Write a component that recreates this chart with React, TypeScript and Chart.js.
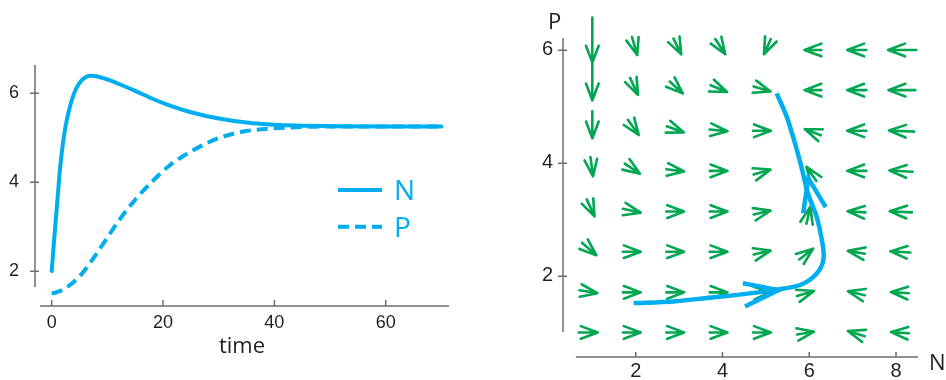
import React, { useEffect, useRef } from 'react';
import { Chart, registerables } from 'chart.js';

Chart.register(...registerables);

// ---------- Left panel: time series ----------
const timeT = [0, 0.5, 1, 1.5, 2, 2.5, 3, 4, 5, 6, 7, 8, 10, 12, 15, 18, 21, 25, 30, 35, 40, 45, 50, 60, 70];
const seriesN = [2.0, 2.8, 3.55, 4.3, 4.85, 5.25, 5.55, 5.98, 6.22, 6.34, 6.38, 6.37, 6.3, 6.2, 6.04, 5.87, 5.72, 5.56, 5.42, 5.33, 5.28, 5.26, 5.25, 5.24, 5.24];
const seriesP = [1.5, 1.51, 1.53, 1.55, 1.58, 1.62, 1.66, 1.76, 1.88, 2.03, 2.2, 2.38, 2.75, 3.12, 3.6, 4.0, 4.35, 4.68, 4.98, 5.14, 5.2, 5.23, 5.24, 5.24, 5.24];
const timeTicks = [0, 20, 40, 60];
const valueTicks = [2, 4, 6];
const seriesLabels = ['N', 'P'];
const timeTitle = 'time';

// ---------- Right panel: phase plane ----------
const phaseTicksN = [2, 4, 6, 8];
const phaseTicksP = [2, 4, 6];
const phaseLabelN = 'N';
const phaseLabelP = 'P';
const fieldN = [1, 2, 3, 4, 5, 6, 7, 8];
const fieldP = [6, 5.29, 4.57, 3.86, 3.14, 2.43, 1.71, 1];
const fieldU = [
  [0, 0.12, 0.18, 0.23, -0.16, -0.39, -0.44, -0.65],
  [0, 0.18, 0.3, 0.38, 0.39, -0.39, -0.44, -0.62],
  [0, 0.25, 0.39, 0.41, 0.41, -0.37, -0.44, -0.58],
  [0.06, 0.35, 0.41, 0.41, 0.39, -0.23, -0.44, -0.53],
  [0.18, 0.41, 0.41, 0.41, 0.39, 0.09, -0.41, -0.51],
  [0.33, 0.41, 0.41, 0.41, 0.39, 0.32, -0.39, -0.46],
  [0.41, 0.41, 0.41, 0.41, 0.41, 0.39, -0.39, -0.41],
  [0.44, 0.41, 0.41, 0.41, 0.41, 0.39, -0.39, -0.41],
];
const fieldV = [
  [-0.8, -0.32, -0.28, -0.27, -0.27, 0, 0, 0],
  [-0.65, -0.3, -0.21, -0.12, -0.09, 0, 0, 0],
  [-0.48, -0.27, -0.11, -0.03, 0, 0.11, 0, 0.02],
  [-0.34, -0.18, -0.04, 0, 0.09, 0.25, 0, 0.02],
  [-0.3, -0.07, 0, 0, 0.07, 0.3, 0.02, 0.02],
  [-0.22, 0, 0, 0, 0.07, 0.19, 0.05, 0.02],
  [-0.05, 0, 0, 0, 0.02, 0.09, 0.07, 0.02],
  [0, 0, 0, 0, 0, 0.05, 0.09, 0.02],
];
const trajN = [1.95, 2.87, 3.64, 4.4, 5.17, 5.79, 6.17, 6.33, 6.29, 6.17, 5.97, 5.82, 5.67, 5.48, 5.25];
const trajP = [1.52, 1.55, 1.61, 1.67, 1.75, 1.84, 2.04, 2.3, 2.64, 3.05, 3.46, 3.93, 4.35, 4.82, 5.23];
const head1N = [4.47, 5.29, 4.52];
const head1P = [1.87, 1.75, 1.46];
const head2N = [5.86, 5.98, 6.38];
const head2P = [3.11, 3.73, 3.22];

const BLUE = '#00aeef';
const GREEN = '#00a651';
const AXIS = '#6d6e71';
const TEXT = '#231f20';

const pts = (xs: number[], ys: number[]) => xs.map((x, i) => ({ x, y: ys[i] }));

function detachedAxes(cfg: { yFrom: number; yTo: number; xFrom: number; xTo: number; yTickIn: number; yTickOut: number; xTickUp: number }) {
  return {
    id: 'detachedAxes',
    beforeDatasetsDraw(chart: any) {
      const { ctx, chartArea, scales } = chart;
      const x = scales.x, y = scales.y;
      ctx.save();
      ctx.strokeStyle = AXIS;
      ctx.lineWidth = 1.5;
      ctx.beginPath();
      ctx.moveTo(chartArea.left, y.getPixelForValue(cfg.yFrom));
      ctx.lineTo(chartArea.left, y.getPixelForValue(cfg.yTo));
      ctx.moveTo(x.getPixelForValue(cfg.xFrom), chartArea.bottom);
      ctx.lineTo(x.getPixelForValue(cfg.xTo), chartArea.bottom);
      y.ticks.forEach((t: any) => {
        const py = Math.round(y.getPixelForValue(t.value)) + 0.25;
        ctx.moveTo(chartArea.left - cfg.yTickOut, py);
        ctx.lineTo(chartArea.left + cfg.yTickIn, py);
      });
      x.ticks.forEach((t: any) => {
        const px = x.getPixelForValue(t.value);
        ctx.moveTo(px, chartArea.bottom - cfg.xTickUp);
        ctx.lineTo(px, chartArea.bottom + 0.75);
      });
      ctx.stroke();
      ctx.restore();
    },
  };
}

const seriesLegend = {
  id: 'seriesLegend',
  afterDatasetsDraw(chart: any) {
    const { ctx } = chart;
    chart.data.datasets.forEach((ds: any, i: number) => {
      const y = 190 + i * 36.7;
      ctx.save();
      ctx.strokeStyle = ds.borderColor;
      ctx.lineWidth = ds.borderWidth;
      ctx.lineCap = 'butt';
      ctx.setLineDash(ds.borderDash || []);
      ctx.beginPath();
      ctx.moveTo(338, y);
      ctx.lineTo(382, y);
      ctx.stroke();
      ctx.setLineDash([]);
      ctx.fillStyle = BLUE;
      ctx.font = '28px "Open Sans"';
      ctx.textBaseline = 'alphabetic';
      ctx.textAlign = 'left';
      ctx.fillText(ds.label, 394, y + 10);
      ctx.restore();
    });
  },
};

const vectorField = {
  id: 'vectorField',
  beforeDatasetsDraw(chart: any) {
    const { ctx, scales } = chart;
    const x = scales.x, y = scales.y;
    ctx.save();
    ctx.strokeStyle = GREEN;
    ctx.lineWidth = 2.6;
    ctx.lineCap = 'round';
    ctx.lineJoin = 'round';
    fieldP.forEach((p, i) =>
      fieldN.forEach((n, j) => {
        const u = fieldU[i][j];
        const v = fieldV[i][j];
        const tx = x.getPixelForValue(n + 0.28 * u);
        const ty = y.getPixelForValue(p + 0.28 * v);
        const sx = x.getPixelForValue(n - 0.72 * u);
        const sy = y.getPixelForValue(p - 0.72 * v);
        const ang = Math.atan2(ty - sy, tx - sx);
        const L = 18;
        const a = 0.36;
        ctx.beginPath();
        ctx.moveTo(sx, sy);
        ctx.lineTo(tx, ty);
        ctx.moveTo(tx - L * Math.cos(ang - a), ty - L * Math.sin(ang - a));
        ctx.lineTo(tx, ty);
        ctx.lineTo(tx - L * Math.cos(ang + a), ty - L * Math.sin(ang + a));
        ctx.stroke();
      })
    );
    ctx.restore();
  },
};

const phaseLabels = {
  id: 'phaseLabels',
  afterDraw(chart: any) {
    const { ctx } = chart;
    ctx.save();
    ctx.fillStyle = TEXT;
    ctx.font = '22px "Open Sans"';
    ctx.textBaseline = 'alphabetic';
    ctx.textAlign = 'left';
    ctx.fillText(phaseLabelP, 68, 28.5);
    ctx.fillText(phaseLabelN, 449, 370);
    ctx.restore();
  },
};

function leftConfig(): any {
  return {
    type: 'line',
    data: {
      datasets: [
        {
          label: seriesLabels[0],
          data: pts(timeT, seriesN),
          borderColor: BLUE,
          borderWidth: 4,
          pointRadius: 0,
          cubicInterpolationMode: 'monotone',
          borderCapStyle: 'round',
          fill: false,
        },
        {
          label: seriesLabels[1],
          data: pts(timeT, seriesP),
          borderColor: BLUE,
          borderWidth: 4,
          borderDash: [11, 6],
          pointRadius: 0,
          cubicInterpolationMode: 'monotone',
          fill: false,
        },
      ],
    },
    options: {
      animation: false,
      responsive: false,
      devicePixelRatio: 1,
      layout: { padding: { left: 0, top: 65, right: 31, bottom: 0 } },
      plugins: { legend: { display: false }, tooltip: { enabled: false } },
      scales: {
        x: {
          type: 'linear',
          min: -3.0,
          max: 71.37,
          grid: { display: false, drawTicks: false },
          border: { display: false },
          afterBuildTicks: (s: any) => {
            s.ticks = timeTicks.map((v) => ({ value: v }));
          },
          afterFit: (s: any) => {
            s.height = 74;
          },
          ticks: { padding: 6, color: TEXT, font: { family: 'Liberation Sans', size: 18 }, maxRotation: 0, autoSkip: false },
          title: {
            display: true,
            text: timeTitle,
            color: TEXT,
            font: { family: 'Open Sans', size: 22 },
            padding: { top: 0, bottom: 20 },
          },
        },
        y: {
          type: 'linear',
          min: 1.215,
          max: 6.621,
          grid: { display: false, drawTicks: false },
          border: { display: false },
          afterBuildTicks: (s: any) => {
            s.ticks = valueTicks.map((v) => ({ value: v }));
          },
          afterFit: (s: any) => {
            s.width = 35;
          },
          ticks: { padding: 16, color: TEXT, font: { family: 'Liberation Sans', size: 18 } },
        },
      },
    },
    plugins: [detachedAxes({ yFrom: 1.64, yTo: 6.621, xFrom: -2.1, xTo: 71.37, yTickIn: 4, yTickOut: 5, xTickUp: 6 }), seriesLegend],
  };
}

function rightConfig(): any {
  return {
    type: 'line',
    data: {
      datasets: [
        {
          label: 'trajectory',
          data: pts(trajN, trajP),
          borderColor: BLUE,
          borderWidth: 4.5,
          pointRadius: 0,
          tension: 0.3,
          fill: false,
        },
        {
          label: 'arrow1',
          data: pts(head1N, head1P),
          borderColor: BLUE,
          borderWidth: 4.5,
          pointRadius: 0,
          tension: 0,
          borderJoinStyle: 'miter',
          fill: false,
        },
        {
          label: 'arrow2',
          data: pts(head2N, head2P),
          borderColor: BLUE,
          borderWidth: 4.5,
          pointRadius: 0,
          tension: 0,
          borderJoinStyle: 'miter',
          fill: false,
        },
      ],
    },
    options: {
      animation: false,
      responsive: false,
      devicePixelRatio: 1,
      layout: { padding: { left: 0, top: 38, right: 28, bottom: 0 } },
      plugins: { legend: { display: false }, tooltip: { enabled: false } },
      scales: {
        x: {
          type: 'linear',
          min: 0.324,
          max: 8.507,
          grid: { display: false, drawTicks: false },
          border: { display: false },
          afterBuildTicks: (s: any) => {
            s.ticks = phaseTicksN.map((v) => ({ value: v }));
          },
          afterFit: (s: any) => {
            s.height = 23;
          },
          ticks: { padding: 2, color: TEXT, font: { family: 'Liberation Sans', size: 20 }, maxRotation: 0, autoSkip: false },
        },
        y: {
          type: 'linear',
          min: 0.566,
          max: 6.212,
          grid: { display: false, drawTicks: false },
          border: { display: false },
          afterBuildTicks: (s: any) => {
            s.ticks = phaseTicksP.map((v) => ({ value: v }));
          },
          afterFit: (s: any) => {
            s.width = 83;
          },
          ticks: { padding: 10, color: TEXT, font: { family: 'Liberation Sans', size: 20 } },
        },
      },
    },
    plugins: [detachedAxes({ yFrom: 1.01, yTo: 6.212, xFrom: 0.62, xTo: 8.507, yTickIn: 4, yTickOut: 5, xTickUp: 5 }), vectorField, phaseLabels],
  };
}

export default function App() {
  const leftRef = useRef<HTMLCanvasElement>(null);
  const rightRef = useRef<HTMLCanvasElement>(null);
  useEffect(() => {
    const left = new Chart(leftRef.current as HTMLCanvasElement, leftConfig());
    const right = new Chart(rightRef.current as HTMLCanvasElement, rightConfig());
    return () => {
      left.destroy();
      right.destroy();
    };
  }, []);
  return (
    <div style={{ position: 'absolute', left: 0, top: 0, width: 946, height: 380, display: 'flex', background: '#ffffff' }}>
      <canvas ref={leftRef} width={480} height={380} style={{ display: 'block', width: 480, height: 380 }} />
      <canvas ref={rightRef} width={466} height={380} style={{ display: 'block', width: 466, height: 380 }} />
    </div>
  );
}
